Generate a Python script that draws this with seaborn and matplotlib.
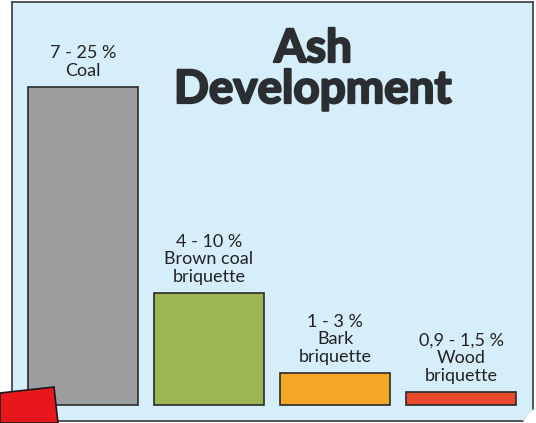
import matplotlib.pyplot as plt
import seaborn as sns
import pandas as pd
import matplotlib.patheffects as pe
from matplotlib.patches import Polygon, Ellipse

# Data (bar heights relative to coal = 25)
fuels = ['Coal', 'Brown coal briquette', 'Bark briquette', 'Wood briquette']
ranges = ['7 - 25 %', '4 - 10 %', '1 - 3 %', '0,9 - 1,5 %']
labels = ['Coal', 'Brown coal\nbriquette', 'Bark\nbriquette', 'Wood\nbriquette']
heights = [25, 8.8, 2.5, 1.0]
colors = ['#9c9d9f', '#9db654', '#f4a726', '#e8492c']

df = pd.DataFrame({'fuel': fuels, 'height': heights})

sns.set_theme(style='white')
plt.rcParams['font.family'] = ['Lato', 'DejaVu Sans']

W, H = 536, 423
fig = plt.figure(figsize=(W / 100, H / 100), dpi=100, facecolor='white')
ax = fig.add_axes([12 / W, 2 / H, 521 / W, 419 / H])
ax.set_facecolor('#d6eefa')

sns.barplot(data=df, x='fuel', y='height', hue='fuel', palette=colors,
            legend=False, width=0.873, edgecolor='#2a2a2a', linewidth=1.2,
            saturation=1, ax=ax)

ax.set_xlim(-0.563, 3.571)
ax.set_ylim(-1.258, 31.68)
ax.set_xticks([])
ax.set_yticks([])
ax.set_xlabel('')
ax.set_ylabel('')
for s in ax.spines.values():
    s.set_color('#3a3a3a')
    s.set_linewidth(1.2)

for i, (r, lab, h) in enumerate(zip(ranges, labels, heights)):
    ax.annotate(r + '\n' + lab, xy=(i, h), xytext=(0, 6),
                textcoords='offset points', ha='center', va='bottom',
                fontsize=13, color='#222222', linespacing=1.12)

heavy = [pe.withStroke(linewidth=1.6, foreground='#2b2e31')]
fig.text(313 / W, 1 - 62 / H, 'Ash', ha='center', va='baseline',
         fontsize=33, fontweight='bold', color='#2b2e31', path_effects=heavy)
fig.text(313 / W, 1 - 103 / H, 'Development', ha='center', va='baseline',
         fontsize=33, fontweight='bold', color='#2b2e31', path_effects=heavy)

# decorative red tab in the lower-left corner
tab = Polygon([(0, 0), (0, 30 / H), (54 / W, 36 / H), (58 / W, 0)],
              closed=True, transform=fig.transFigure, facecolor='#e8171c',
              edgecolor='#1a1a1a', linewidth=1.2, zorder=10)
fig.patches.append(tab)
curl = Ellipse((538 / W, -4 / H), 30 / W, 36 / H, transform=fig.transFigure,
               facecolor='white', edgecolor='#dddddd', linewidth=0.8, zorder=10)
fig.patches.append(curl)

fig.savefig('out.png', dpi=100)
